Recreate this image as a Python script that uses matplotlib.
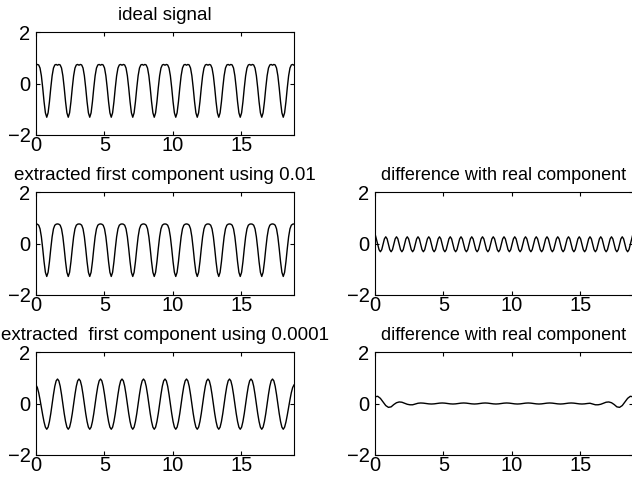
import numpy as np
import matplotlib
matplotlib.use('Agg')
import matplotlib.pyplot as plt

plt.rcParams['font.family'] = ['Liberation Sans', 'DejaVu Sans']

ideal_period = [0.71, 0.74, 0.72, 0.60, 0.30, -0.17, -0.71, -1.14,
                -1.31, -1.14, -0.71, -0.17, 0.30, 0.60, 0.72, 0.74]
extr1_period = [0.76, 0.75, 0.71, 0.57, 0.26, -0.20, -0.71, -1.12,
                -1.28, -1.12, -0.71, -0.20, 0.26, 0.57, 0.71, 0.75]
diff1_cycle = [0.26, 0.18, -0.03, -0.24, -0.32, -0.24, -0.03, 0.18]
diff1_edge = 0.38
extr2_period = [0.95, 0.88, 0.67, 0.35, -0.02, -0.39, -0.70, -0.92,
                -1.00, -0.92, -0.70, -0.39, -0.02, 0.35, 0.67, 0.88]
extr2_edge = [0.72, 0.62, 0.42, 0.15, -0.15, -0.45, -0.72, -0.92]

# second difference, sampled every pi/16
diff2_edge = [0.26, 0.28, 0.20, 0.06, -0.08, -0.15, -0.13, -0.04, 0.03,
              0.06, 0.05, 0.01, -0.03, -0.05, -0.05, -0.02, 0.01]
diff2_ripple = [0.02, 0.014, 0.0, -0.014, -0.02, -0.014, 0.0, 0.014]

titles = ['ideal signal',
          'extracted first component using 0.01',
          'difference with real component',
          'extracted  first component using 0.0001',
          'difference with real component']

nPeriods = 12
tEnd = 6 * np.pi

t = np.linspace(0, tEnd, nPeriods * len(ideal_period) + 1)


def periodic(period, reps):
    vals = np.tile(period, reps)
    return np.append(vals, period[0])


ideal = periodic(ideal_period, nPeriods)
extr1 = periodic(extr1_period, nPeriods)
diff1 = periodic(diff1_cycle, 2 * nPeriods)
diff1[0] = diff1_edge
diff1[-1] = diff1_edge
extr2 = periodic(extr2_period, nPeriods)
extr2[:len(extr2_edge)] = extr2_edge
extr2[-len(extr2_edge):] = extr2_edge[::-1]

nMid = 97 - 2 * len(diff2_edge)
diff2 = np.concatenate([diff2_edge, np.resize(diff2_ripple, nMid), diff2_edge[::-1]])
t2 = np.linspace(0, tEnd, len(diff2))

fig = plt.figure(figsize=(6.32, 4.83), dpi=100)

W, H = 632.0, 483.0
colX = [36, 375]
rowY = [32, 192, 352]
axW, axH = 258, 103


def makeAxes(col, row):
    ax = fig.add_axes([colX[col] / W, 1 - (rowY[row] + axH) / H, axW / W, axH / H])
    ax.set_xlim(0, tEnd)
    ax.set_ylim(-2, 2)
    ax.set_xticks([0, 5, 10, 15])
    ax.set_yticks([-2, 0, 2])
    ax.tick_params(direction='in', length=3, width=0.8, top=True, right=True,
                   labelsize=14.5, colors='black')
    ax.tick_params(axis='y', pad=4)
    ax.tick_params(axis='x', pad=1)
    for sp in ax.spines.values():
        sp.set_linewidth(0.8)
    return ax


panels = [
    (0, 0, t, ideal),
    (0, 1, t, extr1),
    (1, 1, t, diff1),
    (0, 2, t, extr2),
    (1, 2, t2, diff2),
]

for (col, row, x, y), ttl in zip(panels, titles):
    ax = makeAxes(col, row)
    ax.plot(x, y, color='black', lw=1.0)
    ax.set_title(ttl, fontsize=13.5 if col == 0 else 13, pad=9)

fig.savefig('out.png', dpi=100)
